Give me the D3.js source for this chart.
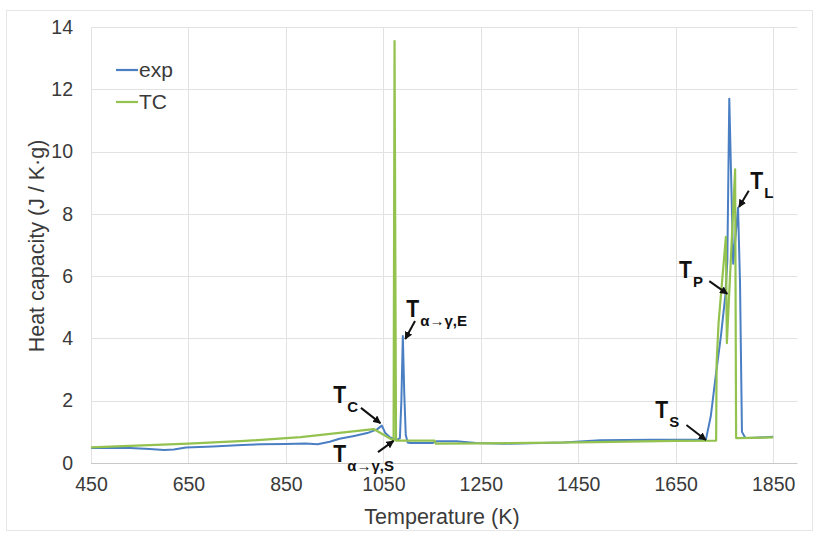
<!DOCTYPE html>
<html><head><meta charset="utf-8">
<script src="https://cdn.jsdelivr.net/npm/d3@7"></script>
<style>
body{margin:0;background:#fff;}
svg{display:block;font-family:"Liberation Sans",Arial,sans-serif;}
</style>
</head><body>
<svg id="chart" width="815" height="536"></svg>
<script>
// ---- data ----
const expT  = [450,480,530,570,600,620,645,700,760,800,850,890,915,940,960,990,1017,1037,1047,1054,1064,1078,1084,1087,1090,1093,1096,1100,1105,1150,1160,1200,1240,1300,1420,1495,1600,1712,1722,1733,1743,1752,1756,1760,1768,1778,1782,1786,1793,1800,1850];
const expCp = [0.48,0.49,0.48,0.45,0.42,0.43,0.50,0.53,0.58,0.60,0.61,0.63,0.60,0.68,0.78,0.87,0.96,1.08,1.20,0.96,0.82,0.74,0.80,2.0,4.08,2.2,0.9,0.66,0.64,0.64,0.70,0.70,0.64,0.62,0.66,0.73,0.75,0.75,1.5,2.9,4.1,5.4,6.5,11.7,6.4,8.2,5.8,1.0,0.80,0.80,0.84];

const tcT  = [450,650,766,880,1030,1071,1073,1076,1155,1158,1250,1450,1650,1733,1734,1738,1753,1755,1772,1774,1850];
const tcCp = [0.50,0.62,0.71,0.83,1.09,0.72,13.55,0.72,0.72,0.62,0.63,0.66,0.71,0.72,3.2,4.5,7.26,3.85,9.43,0.80,0.82];

const seriesNames = ["exp", "TC"];
const xTicks = [450,650,850,1050,1250,1450,1650,1850];
const yTicks = [0,2,4,6,8,10,12,14];
const xTitle = "Temperature (K)";
const yTitle = "Heat capacity (J / K·g)";

// annotation labels (in data units: temperature, heat capacity)
const annotations = [
  {main:"T", sub:"C",     tx:947,  ty:1.93, fx:1004, fy:1.77, ax:1044, ay:1.28},
  {main:"T", sub:"α→γ,S", tx:947,  ty:0.03, fx:1039, fy:0.35, ax:1071, ay:0.71},
  {main:"T", sub:"α→γ,E", tx:1097, ty:4.69, fx:1115, fy:4.56, ax:1095, ay:3.98},
  {main:"T", sub:"S",     tx:1608, ty:1.45, fx:1672, fy:1.22, ax:1712, ay:0.74},
  {main:"T", sub:"P",     tx:1657, ty:5.94, fx:1719, fy:5.84, ax:1756, ay:5.43},
  {main:"T", sub:"L",     tx:1803, ty:8.80, fx:1800, fy:8.74, ax:1780, ay:8.22}
];

// ---- drawing ----
const svg = d3.select("#chart");
const colors = {exp:"#4a7fc3", TC:"#93c24f"};

const x = d3.scaleLinear().domain([450,1900]).range([91,797.5]);
const y = d3.scaleLinear().domain([0,14]).range([463,27]);

// outer frame
svg.append("rect").attr("x",6.5).attr("y",10.5).attr("width",806).attr("height",520)
  .attr("fill","none").attr("stroke","#e6e6e6");

// gridlines
const grid = svg.append("g");
grid.selectAll(".hg").data(yTicks.filter(d=>d>0)).join("line")
  .attr("x1",x(450)).attr("x2",x(1900))
  .attr("y1",d=>Math.round(y(d))+0.5).attr("y2",d=>Math.round(y(d))+0.5)
  .attr("stroke","#e2e2e2").attr("stroke-width",1);
grid.selectAll(".vg").data(xTicks).join("line")
  .attr("x1",d=>Math.round(x(d))+0.5).attr("x2",d=>Math.round(x(d))+0.5)
  .attr("y1",y(14)).attr("y2",y(0))
  .attr("stroke","#e2e2e2").attr("stroke-width",1);

// axes (labels only, via d3 axes)
const xAxis = d3.axisBottom(x).tickValues(xTicks).tickSize(0).tickPadding(14).tickFormat(d3.format("d"));
const gx = svg.append("g").attr("transform",`translate(0,${y(0)})`).call(xAxis);
gx.select(".domain").attr("stroke","#c8c8c8").attr("d",`M${x(450)},0.5H${x(1900)}`);
gx.selectAll("text").attr("font-size",19.5).attr("fill","#3a3a3a").attr("font-family","Liberation Sans, Arial, sans-serif");

const yAxis = d3.axisLeft(y).tickValues(yTicks).tickSize(0).tickPadding(18).tickFormat(d3.format("d"));
const gy = svg.append("g").attr("transform",`translate(${x(450)},0)`).call(yAxis);
gy.select(".domain").remove();
gy.selectAll("text").attr("font-size",19.5).attr("fill","#3a3a3a").attr("font-family","Liberation Sans, Arial, sans-serif");

// axis titles
svg.append("text").attr("x",442).attr("y",524).attr("text-anchor","middle")
  .attr("font-size",21.5).attr("fill","#3a3a3a").text(xTitle);
svg.append("text").attr("transform","translate(44,246) rotate(-90)").attr("text-anchor","middle")
  .attr("font-size",21.5).attr("fill","#3a3a3a").text(yTitle);

// series
const line = d3.line().x(d=>x(d[0])).y(d=>y(d[1]));
const expData = expT.map((t,i)=>[t,expCp[i]]);
const tcData = tcT.map((t,i)=>[t,tcCp[i]]);
svg.append("path").datum(expData).attr("d",line).attr("fill","none")
  .attr("stroke",colors.exp).attr("stroke-width",2).attr("stroke-linejoin","round");
svg.append("path").datum(tcData).attr("d",line).attr("fill","none")
  .attr("stroke",colors.TC).attr("stroke-width",2.2).attr("stroke-linejoin","round");

// legend
const leg = svg.append("g");
seriesNames.forEach((n,i)=>{
  const ly = 70 + i*32;
  leg.append("line").attr("x1",116).attr("x2",138).attr("y1",ly).attr("y2",ly)
    .attr("stroke",colors[n]).attr("stroke-width",2.2);
  leg.append("text").attr("x",139).attr("y",ly+7).attr("font-size",21).attr("fill","#3a3a3a").text(n);
});

// arrow marker
svg.append("defs").append("marker").attr("id","arr")
  .attr("viewBox","0 0 10 10").attr("refX",9).attr("refY",5)
  .attr("markerWidth",8).attr("markerHeight",8).attr("markerUnits","userSpaceOnUse")
  .attr("orient","auto")
  .append("path").attr("d","M0,0L10,5L0,10z").attr("fill","#111");

// annotations
const ann = svg.append("g");
annotations.forEach(a=>{
  ann.append("line").attr("x1",x(a.fx)).attr("y1",y(a.fy)).attr("x2",x(a.ax)).attr("y2",y(a.ay))
    .attr("stroke","#111").attr("stroke-width",2).attr("marker-end","url(#arr)");
  const g = ann.append("g").attr("transform",`translate(${x(a.tx)},${y(a.ty)})`);
  g.append("text").attr("transform","scale(0.88,1)").attr("fill","#111").attr("font-weight","bold")
    .attr("font-size",24).text(a.main);
  g.append("text").attr("x",14).attr("y",9).attr("fill","#111").attr("font-weight","bold")
    .attr("font-size",15).text(a.sub);
});
</script>
</body></html>
